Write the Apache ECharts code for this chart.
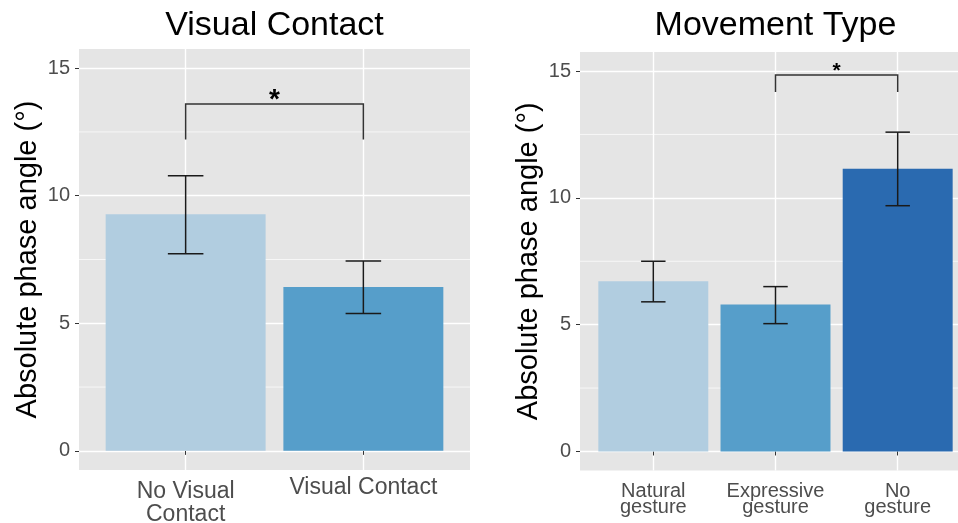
<!DOCTYPE html>
<html>
<head>
<meta charset="utf-8">
<script src="https://cdn.jsdelivr.net/npm/echarts@6/dist/echarts.min.js"></script>
<style>html,body{margin:0;padding:0;background:#fff}#c{width:958px;height:523px}</style>
</head>
<body>
<div id="c"></div>
<script>
// ---- data ----
const vcTitle = 'Visual Contact';
const vcCategories = ['No Visual\nContact', 'Visual Contact'];
const vcMeans = [9.27, 6.42];
const vcLower = [7.73, 5.38];
const vcUpper = [10.78, 7.44];
const vcBracket = [1, 2, 13.59, 12.2];   // from, to, top, leg end

const mtTitle = 'Movement Type';
const mtCategories = ['Natural\ngesture', 'Expressive\ngesture', 'No\ngesture'];
const mtMeans = [6.71, 5.79, 11.15];
const mtLower = [5.90, 5.04, 9.69];
const mtUpper = [7.50, 6.50, 12.59];
const mtBracket = [2, 3, 14.84, 14.17];

const yTicks = [0, 5, 10, 15];
const yMinor = [2.5, 7.5, 12.5];
const sigLabel = '*';
const yName = 'Absolute phase angle (°)';

// ---- styles ----
const FONT = 'Liberation Sans, Arial, Helvetica, sans-serif';
const barColors = ['#B1CDE0', '#569ECA', '#2A6AB0'];
const panelBg = '#E5E5E5';

function buildBarData(means) { return means.map((m, i) => [i + 1, m, i]); }
function buildErrData(lo, hi) { return lo.map((l, i) => [i + 1, l, hi[i]]); }

function barRender(params, api) {
  const x = api.value(0), y = api.value(1), ci = api.value(2);
  const top = api.coord([x, y]);
  const base = api.coord([x, 0]);
  const w = api.size([0.9, 0])[0];
  return { type: 'rect', shape: { x: top[0] - w / 2, y: top[1], width: w, height: base[1] - top[1] },
           style: { fill: barColors[ci] } };
}
function errRender(params, api) {
  const x = api.value(0), lo = api.value(1), hi = api.value(2);
  const pLo = api.coord([x, lo]), pHi = api.coord([x, hi]);
  const hw = api.size([0.2, 0])[0] / 2;
  const st = { stroke: '#1A1A1A', lineWidth: 1.5 };
  return { type: 'group', children: [
    { type: 'line', shape: { x1: pLo[0], y1: pLo[1], x2: pHi[0], y2: pHi[1] }, style: st },
    { type: 'line', shape: { x1: pLo[0] - hw, y1: pLo[1], x2: pLo[0] + hw, y2: pLo[1] }, style: st },
    { type: 'line', shape: { x1: pHi[0] - hw, y1: pHi[1], x2: pHi[0] + hw, y2: pHi[1] }, style: st }
  ]};
}
function minorRender(params, api) {
  const y = api.coord([1, api.value(1)])[1];
  const cs = params.coordSys;
  return { type: 'line', shape: { x1: cs.x, y1: y, x2: cs.x + cs.width, y2: y },
           style: { stroke: '#FFFFFF', lineWidth: 0.7 } };
}
function bracketRenderer(starSize) {
  return function (params, api) {
    const x1 = api.value(0), x2 = api.value(1), top = api.value(2), leg = api.value(3);
    const a = api.coord([x1, leg]), b = api.coord([x1, top]), c = api.coord([x2, top]), d = api.coord([x2, leg]);
    return { type: 'group', children: [
      { type: 'polyline', shape: { points: [a, b, c, d] }, style: { stroke: '#333333', lineWidth: 1.5, fill: null } },
      { type: 'text', x: (b[0] + c[0]) / 2, y: b[1] - 4,
        style: { text: sigLabel, fontSize: starSize, fontWeight: 'bold', fontFamily: FONT, fill: '#000',
                 align: 'center', verticalAlign: 'middle' } }
    ]};
  };
}

function xAxisFor(gi, cats, max, fontSize, lineHeight, margin, singleLH) {
  const vals = cats.map((c, i) => i + 1);
  return {
    type: 'value', gridIndex: gi, min: 0.4, max: max,
    axisLine: { show: false },
    axisTick: { show: true, customValues: vals, length: 4, lineStyle: { color: '#333333', width: 1 } },
    axisLabel: {
      customValues: vals, margin: margin, color: '#4D4D4D', fontSize: fontSize, fontFamily: FONT,
      lineHeight: lineHeight, align: 'center', verticalAlign: 'top', hideOverlap: false,
      formatter: function (v) {
        const s = cats[Math.round(v) - 1] || '';
        return s.indexOf('\n') >= 0 ? s : '{s|' + s + '}';
      },
      rich: { s: { fontSize: fontSize, color: '#4D4D4D', fontFamily: FONT, lineHeight: singleLH } }
    },
    splitLine: { show: true, lineStyle: { color: '#FFFFFF', width: 1.4 } }
  };
}
function yAxisFor(gi) {
  return {
    type: 'value', gridIndex: gi, min: -0.75, max: 15.75,
    axisLine: { show: false },
    axisTick: { show: true, customValues: yTicks, length: 4, lineStyle: { color: '#333333', width: 1 } },
    axisLabel: { customValues: yTicks, margin: 9, color: '#4D4D4D', fontSize: 20, fontFamily: FONT },
    splitLine: { show: true, lineStyle: { color: '#FFFFFF', width: 1.4 } },
    name: yName, nameLocation: 'middle', nameGap: 37,
    nameTextStyle: { fontSize: 29, color: '#000', fontFamily: FONT }
  };
}

const chart = echarts.init(document.getElementById('c'));
chart.setOption({
  animation: false,
  backgroundColor: '#FFFFFF',
  textStyle: { fontFamily: FONT },
  title: [
    { text: vcTitle, left: 274.5, top: 9, textAlign: 'center', padding: 0,
      textStyle: { fontSize: 34, fontWeight: 'normal', color: '#000', fontFamily: FONT } },
    { text: mtTitle, left: 775.5, top: 9, textAlign: 'center', padding: 0,
      textStyle: { fontSize: 34, fontWeight: 'normal', color: '#000', fontFamily: FONT } }
  ],
  grid: [
    { left: 79, top: 49, width: 391, height: 421, show: true, backgroundColor: panelBg, borderWidth: 0,
      outerBoundsMode: 'none', containLabel: false },
    { left: 580, top: 52, width: 391, height: 418.5, show: true, backgroundColor: panelBg, borderWidth: 0,
      outerBoundsMode: 'none', containLabel: false }
  ],
  xAxis: [
    xAxisFor(0, vcCategories, 2.6, 23, 23.4, 10, 16),
    xAxisFor(1, mtCategories, 3.6, 20, 16, 13, 16)
  ],
  yAxis: [yAxisFor(0), yAxisFor(1)],
  series: [
    { type: 'custom', xAxisIndex: 0, yAxisIndex: 0, z: 1, silent: true, renderItem: minorRender, data: yMinor.map(v => [1, v]) },
    { type: 'custom', xAxisIndex: 0, yAxisIndex: 0, z: 2, silent: true, renderItem: barRender, data: buildBarData(vcMeans) },
    { type: 'custom', xAxisIndex: 0, yAxisIndex: 0, z: 3, silent: true, renderItem: errRender, data: buildErrData(vcLower, vcUpper) },
    { type: 'custom', xAxisIndex: 0, yAxisIndex: 0, z: 4, silent: true, renderItem: bracketRenderer(28), data: [vcBracket] },
    { type: 'custom', xAxisIndex: 1, yAxisIndex: 1, z: 1, silent: true, renderItem: minorRender, data: yMinor.map(v => [1, v]) },
    { type: 'custom', xAxisIndex: 1, yAxisIndex: 1, z: 2, silent: true, renderItem: barRender, data: buildBarData(mtMeans) },
    { type: 'custom', xAxisIndex: 1, yAxisIndex: 1, z: 3, silent: true, renderItem: errRender, data: buildErrData(mtLower, mtUpper) },
    { type: 'custom', xAxisIndex: 1, yAxisIndex: 1, z: 4, silent: true, renderItem: bracketRenderer(21), data: [mtBracket] }
  ]
});
</script>
</body>
</html>
